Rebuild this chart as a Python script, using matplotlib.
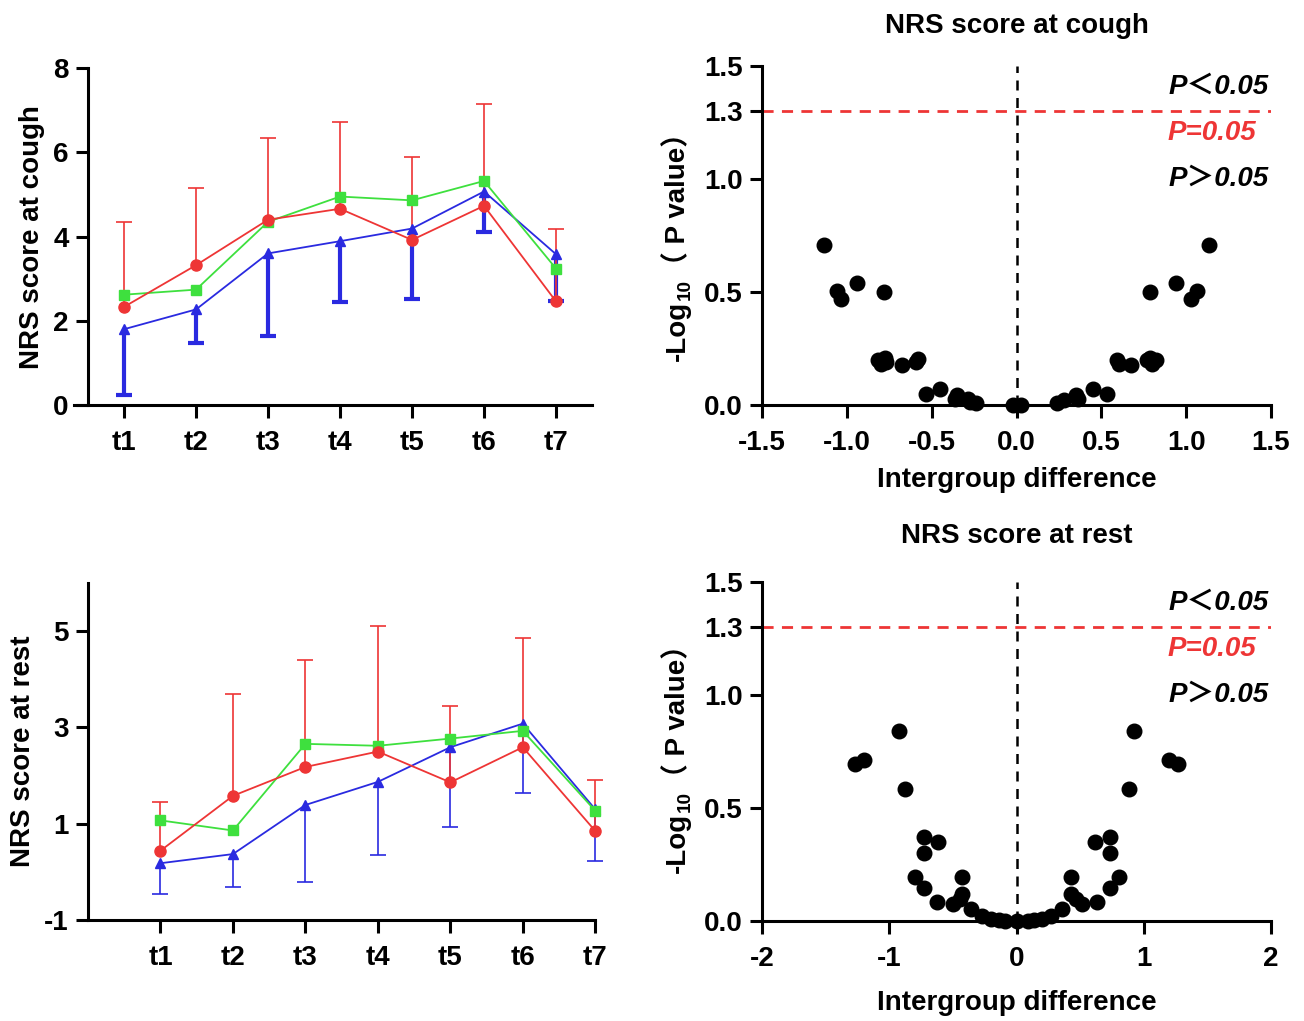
import numpy as np
import matplotlib
matplotlib.use("Agg")
import matplotlib.pyplot as plt
from matplotlib.transforms import IdentityTransform

plt.rcParams['font.family'] = ['Liberation Sans', 'DejaVu Sans', 'Noto Sans CJK SC']
plt.rcParams['font.weight'] = 'bold'
plt.rcParams['axes.unicode_minus'] = False

# time points
times = ["t1", "t2", "t3", "t4", "t5", "t6", "t7"]

# NRS at cough (mean, sd)
cough_red = [2.33, 3.32, 4.40, 4.66, 3.92, 4.73, 2.46]
cough_red_sd = [2.02, 1.84, 1.94, 2.06, 1.97, 2.41, 1.71]
cough_green = [2.62, 2.74, 4.35, 4.95, 4.86, 5.32, 3.24]
cough_blue = [1.80, 2.27, 3.60, 3.89, 4.19, 5.07, 3.58]
cough_blue_sd = [1.55, 0.80, 1.96, 1.44, 1.68, 0.97, 1.11]

# NRS at rest (mean, sd)
rest_red = [0.44, 1.58, 2.18, 2.50, 1.86, 2.59, 0.85]
rest_red_sd = [1.01, 2.11, 2.22, 2.60, 1.59, 2.26, 1.06]
rest_green = [1.07, 0.86, 2.66, 2.62, 2.77, 2.93, 1.27]
rest_blue = [0.18, 0.37, 1.39, 1.87, 2.59, 3.08, 1.30]
rest_blue_sd = [0.63, 0.68, 1.59, 1.51, 1.65, 1.44, 1.07]

# volcano at cough
vc_x = [-1.134, -1.056, -1.032, -0.941, -0.780, -0.817, -0.800, -0.768, -0.775, -0.677,
        -0.592, -0.580, -0.531, -0.451, -0.353, -0.360, -0.287, -0.238, -0.275, -0.018, 0.025,
        0.238, 0.282, 0.348, 0.360, 0.453, 0.531, 0.592, 0.604, 0.677, 0.770, 0.787, 0.800,
        0.824, 0.787, 0.941, 1.031, 1.063, 1.136]
vc_y = [0.709, 0.503, 0.471, 0.540, 0.500, 0.199, 0.181, 0.191, 0.206, 0.176,
        0.191, 0.203, 0.049, 0.071, 0.044, 0.026, 0.026, 0.007, 0.012, 0.0, 0.0,
        0.007, 0.022, 0.044, 0.026, 0.071, 0.049, 0.199, 0.181, 0.176, 0.199, 0.206, 0.181,
        0.199, 0.500, 0.540, 0.471, 0.503, 0.709]

# volcano at rest
vr_x = [-1.268, -1.196, -0.926, -0.880, -0.724, -0.730, -0.617, -0.799, -0.724, -0.627,
        -0.425, -0.425, -0.448, -0.496, -0.360, -0.269, -0.197, -0.138, -0.090, 0.0,
        0.090, 0.138, 0.197, 0.269, 0.360, 0.431, 0.431, 0.464, 0.513, 0.633, 0.731,
        0.806, 0.617, 0.731, 0.731, 0.887, 0.926, 1.196, 1.268]
vr_y = [0.693, 0.712, 0.840, 0.583, 0.370, 0.299, 0.348, 0.194, 0.147, 0.084,
        0.194, 0.120, 0.098, 0.076, 0.054, 0.022, 0.010, 0.003, 0.0, 0.0,
        0.0, 0.003, 0.010, 0.022, 0.054, 0.194, 0.120, 0.098, 0.076, 0.084, 0.147,
        0.194, 0.348, 0.299, 0.370, 0.583, 0.840, 0.712, 0.693]

RED = "#ee3535"
GREEN = "#3ee03e"
BLUE = "#2a2ae0"
FS = 20
TFS = 20

fig = plt.figure(figsize=(13.04, 10.21), dpi=100)
renderer = fig.canvas.get_renderer()


def style(ax):
    for s in ["top", "right"]:
        ax.spines[s].set_visible(False)
    for s in ["left", "bottom"]:
        ax.spines[s].set_linewidth(2.2)
    ax.tick_params(width=2.2, length=9, labelsize=TFS, direction="out", pad=5)
    ax.tick_params(axis="x", pad=9)
    for lab in ax.get_xticklabels() + ax.get_yticklabels():
        lab.set_fontweight("bold")


def one_sided_err(ax, x, mean, sd, sign, color, lw):
    mean = np.asarray(mean)
    end = mean + sign * np.asarray(sd)
    ax.vlines(x, mean, end, color=color, lw=lw, zorder=2, clip_on=False)
    ax.plot(x, end, ls="none", marker="_", ms=11, mew=lw, color=color, zorder=2, clip_on=False)


def line_panel(ax, red, red_sd, green, blue, blue_sd, blue_lw):
    x = np.arange(1, 8)
    one_sided_err(ax, x, blue, blue_sd, -1, BLUE, blue_lw)
    ax.plot(x, blue, color=BLUE, lw=1.3, marker="^", ms=7.5, zorder=3, clip_on=False)
    ax.plot(x, green, color=GREEN, lw=1.3, marker="s", ms=7.5, zorder=3, clip_on=False)
    one_sided_err(ax, x, red, red_sd, 1, RED, 1.2)
    ax.plot(x, red, color=RED, lw=1.3, marker="o", ms=8, zorder=4, clip_on=False)
    ax.set_xticks(x)
    ax.set_xticklabels(times)


def log_ylabel(baseline_x, center_y):
    # "-Log10（ P value）" rotated, with a real subscript 10
    pieces = [("-Log", FS, 0), ("10", FS * 0.68, 5), ("\uff08 P value\uff09", FS, 0)]
    texts = []
    total = 0
    for s, size, shift in pieces:
        t = fig.text(0, 0, s, fontsize=size, fontweight="bold", rotation=90,
                     rotation_mode="anchor", ha="left", va="baseline",
                     transform=IdentityTransform())
        h = t.get_window_extent(renderer).height
        texts.append((t, h, shift))
        total += h
    y = center_y - total / 2
    for t, h, shift in texts:
        t.set_position((baseline_x + shift, y))
        y += h


# top-left
ax1 = fig.add_axes([0.0675, 0.6033, 0.3865, 0.330])
line_panel(ax1, cough_red, cough_red_sd, cough_green, cough_blue, cough_blue_sd, 3)
ax1.set_xlim(0.5, 7.5)
ax1.set_ylim(0, 8)
ax1.set_yticks([0, 2, 4, 6, 8])
ax1.set_ylabel("NRS score at cough", fontsize=FS, fontweight="bold", labelpad=6)
style(ax1)
ax1.spines["bottom"].set_bounds(0.3, 7.5)

# bottom-left
ax3 = fig.add_axes([0.0675, 0.0989, 0.389, 0.330])
line_panel(ax3, rest_red, rest_red_sd, rest_green, rest_blue, rest_blue_sd, 1.2)
ax3.set_xlim(0, 7.0)
ax3.set_ylim(-1, 6)
ax3.set_yticks([-1, 1, 3, 5])
ax3.set_ylabel("NRS score at rest", fontsize=FS, fontweight="bold", labelpad=6)
style(ax3)


def volcano(ax, xs, ys, xlim, xticks, xfmt, title, xlab_pad, title_pad):
    ax.axhline(1.3, color=RED, lw=2, ls=(0, (4, 3)), zorder=1)
    ax.axvline(0, color="black", lw=1.8, ls=(0, (4, 3)), zorder=1)
    ax.scatter(xs, ys, s=110, color="black", zorder=3, clip_on=False)
    ax.set_xlim(*xlim)
    ax.set_ylim(0, 1.5)
    ax.set_xticks(xticks)
    ax.set_xticklabels([xfmt.format(v) for v in xticks])
    ax.set_yticks([0, 0.5, 1.0, 1.3, 1.5])
    ax.set_yticklabels(["0.0", "0.5", "1.0", "1.3", "1.5"])
    ax.set_xlabel("Intergroup difference", fontsize=FS, fontweight="bold", labelpad=xlab_pad)
    ax.set_title(title, fontsize=FS, fontweight="bold", pad=title_pad)
    style(ax)
    tx = dict(ha="right", va="center", fontsize=FS, fontweight="bold", style="italic",
              transform=ax.get_yaxis_transform())
    ax.text(0.995, 1.41, "P\uff1c0.05", color="black", **tx)
    ax.text(0.97, 1.205, "P=0.05", color=RED, **tx)
    ax.text(0.995, 1.0, "P\uff1e0.05", color="black", **tx)


ax2 = fig.add_axes([0.5844, 0.6033, 0.3903, 0.332])
volcano(ax2, vc_x, vc_y, (-1.5, 1.5), [-1.5, -1.0, -0.5, 0.0, 0.5, 1.0, 1.5], "{:.1f}",
        "NRS score at cough", 8, 24)
log_ylabel(685, 1021 - 240)

ax4 = fig.add_axes([0.5844, 0.0979, 0.3903, 0.332])
volcano(ax4, vr_x, vr_y, (-2, 2), [-2, -1, 0, 1, 2], "{:d}", "NRS score at rest", 13, 28)
log_ylabel(685, 1021 - 752)

fig.savefig("out.png", dpi=100)
